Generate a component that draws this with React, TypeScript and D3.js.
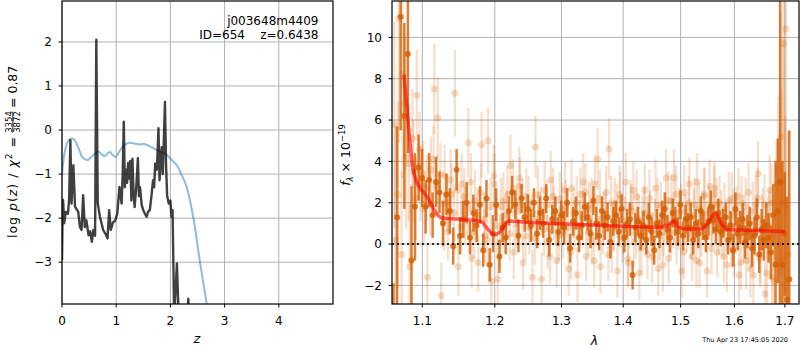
import React from 'react';
import * as d3 from 'd3';

// ---------- Left panel: p(z) ----------
const pzZ = [0.0, 0.01, 0.02, 0.04, 0.07, 0.11, 0.13, 0.155, 0.175, 0.21, 0.24, 0.27, 0.3, 0.33, 0.36, 0.39, 0.42, 0.45, 0.49, 0.52, 0.55, 0.58, 0.61, 0.633, 0.66, 0.7, 0.76, 0.8, 0.84, 0.87, 0.9, 0.94, 0.98, 1.02, 1.06, 1.08, 1.1, 1.12, 1.14, 1.16, 1.18, 1.2, 1.22, 1.24, 1.26, 1.28, 1.3, 1.32, 1.34, 1.37, 1.4, 1.42, 1.44, 1.47, 1.5, 1.53, 1.56, 1.59, 1.62, 1.65, 1.68, 1.7, 1.72, 1.75, 1.78, 1.8, 1.82, 1.84, 1.86, 1.9, 1.92, 1.94, 1.97, 2.0, 2.02, 2.04, 2.07, 2.12, 2.16, 2.3, 2.33, 2.36];
const pzLog = [-2.95, -2.0, -1.59, -2.12, -1.86, -1.9, -1.6, -0.23, -1.67, -0.8, -1.74, -1.8, -1.86, -2.2, -2.27, -1.48, -2.2, -2.05, -2.39, -2.3, -2.54, -2.27, -2.4, 2.05, -1.67, -1.97, -2.27, -2.35, -2.46, -1.82, -2.27, -2.1, -2.06, -1.9, -1.29, -1.5, -1.67, -1.0, 0.19, -1.3, -0.9, -1.2, -0.75, -1.1, -0.7, -1.6, -0.65, -1.4, -1.75, -1.3, -0.64, -1.5, -1.3, -1.7, -1.82, -1.9, -1.97, -1.85, -1.82, -1.5, -1.14, -1.3, -0.76, -0.9, 0.04, -1.14, -0.7, -0.39, -1.0, 0.64, -0.8, -1.5, -1.67, -1.6, -1.97, -1.82, -4.3, -3.03, -4.5, -4.5, -3.83, -4.5];

const chiZ = [0, 0.05, 0.1, 0.15, 0.22, 0.3, 0.38, 0.47, 0.55, 0.67, 0.73, 0.79, 0.85, 0.885, 0.93, 0.99, 1.05, 1.12, 1.18, 1.25, 1.35, 1.45, 1.5, 1.55, 1.62, 1.7, 1.81, 1.93, 2.0, 2.12, 2.2, 2.3, 2.42, 2.55, 2.67, 2.75];
const chiScaled = [-1.0, -0.5, -0.28, -0.2, -0.21, -0.4, -0.62, -0.68, -0.6, -0.49, -0.55, -0.59, -0.52, -0.5, -0.56, -0.61, -0.5, -0.38, -0.32, -0.29, -0.31, -0.33, -0.31, -0.33, -0.37, -0.42, -0.49, -0.56, -0.65, -0.8, -1.0, -1.29, -1.97, -3.03, -3.95, -4.6];

const leftXTicks = [0, 1, 2, 3, 4];
const leftYTicks = [-3, -2, -1, 0, 1, 2];

// ---------- Right panel: spectrum ----------
const darkWave = [1.0625, 1.0672, 1.0718, 1.0765, 1.0811, 1.0858, 1.0904, 1.0951, 1.0997, 1.1044,
  1.1090, 1.1137, 1.1183, 1.1230, 1.1276, 1.1323, 1.1369, 1.1416, 1.1462, 1.1509,
  1.1555, 1.1602, 1.1648, 1.1695, 1.1741, 1.1788, 1.1834, 1.1881, 1.1927, 1.1974,
  1.2020, 1.2067, 1.2113, 1.2160, 1.2206, 1.2253, 1.2299, 1.2346, 1.2392, 1.2439,
  1.2485, 1.2532, 1.2578, 1.2625, 1.2671, 1.2718, 1.2764, 1.2811, 1.2857, 1.2904,
  1.2950, 1.2997, 1.3043, 1.3090, 1.3136, 1.3183, 1.3229, 1.3276, 1.3322, 1.3369,
  1.3415, 1.3462, 1.3508, 1.3555, 1.3601, 1.3648, 1.3694, 1.3741, 1.3787, 1.3834,
  1.3880, 1.3927, 1.3973, 1.4020, 1.4066, 1.4113, 1.4159, 1.4206, 1.4252, 1.4299,
  1.4345, 1.4392, 1.4438, 1.4485, 1.4531, 1.4578, 1.4624, 1.4671, 1.4717, 1.4764,
  1.4810, 1.4857, 1.4903, 1.4950, 1.4996, 1.5043, 1.5089, 1.5136, 1.5182, 1.5229,
  1.5275, 1.5322, 1.5368, 1.5415, 1.5461, 1.5508, 1.5554, 1.5601, 1.5647, 1.5694,
  1.5740, 1.5787, 1.5833, 1.5880, 1.5926, 1.5973, 1.6019, 1.6066, 1.6112, 1.6159,
  1.6205, 1.6252, 1.6298, 1.6345, 1.6391, 1.6438, 1.6484, 1.6531, 1.6577, 1.6624,
  1.6670, 1.6717, 1.6763, 1.6810, 1.6856, 1.6903, 1.6949, 1.6996, 1.7042, 1.7089];
const darkFlux = [-3.4, 1.3, 11.0, 6.2, 9.2, -0.8, 1.8, 3.7, 3.2, 1.8,
  3.1, 1.4, 3.0, 2.5, 1.0, 2.4, 1.6, -0.1, 3.6, 0.4,
  1.2, 2.0, 0.3, 1.5, 0.9, 1.9, -0.3, 2.2, -1.0, 0.5,
  1.9, -0.6, 0.8, 0.3, 1.6, 2.5, 1.9, 0.4, 2.2, 1.3,
  1.7, 0.9, 2.0, 0.5, 1.5, 1.0, 2.2, 0.2, 1.2, 1.6,
  0.6, 1.4, 0.8, 2.0, -0.2, 1.1, 1.5, 0.3, 0.9, 1.8,
  1.3, 0.5, 2.1, 1.0, 0.4, 1.6, 0.9, 1.3, 0.1, 1.1,
  1.4, 0.6, 1.7, 0.3, 1.0, 1.2, -1.5, 0.8, 1.1, 0.4,
  0.9, 0.2, 1.3, 0.6, -0.3, 1.0, 0.5, 1.4, 1.7, 0.7,
  0.3, 1.5, 1.1, 0.6, 1.9, 0.4, 1.2, 0.8, 1.3, 0.2,
  1.0, 0.5, 1.6, 0.9, 0.3, 1.1, 1.8, 1.2, 0.7, 1.5,
  0.6, 1.0, 1.3, 0.2, 0.9, -0.3, 1.7, 0.5, 0.8, 1.2,
  0.1, 0.6, 1.0, -0.2, 0.4, 1.3, -0.5, 0.7, 0.2, 0.9,
  0.3, -0.4, 1.4, -1.0, 1.6, 3.0, -1.0, 0.5, -2.7, -1.7];
const darkErr = [1.5, 4.4, 5.5, 4.5, 4.8, 3.6, 2.6, 1.6, 1.4, 1.3,
  1.3, 1.1, 1.2, 1.0, 1.1, 1.0, 1.1, 0.9, 1.0, 0.9,
  0.9, 1.0, 0.8, 0.9, 0.8, 0.9, 0.8, 0.9, 0.8, 0.9,
  0.8, 0.8, 0.7, 0.8, 0.7, 0.8, 0.7, 0.8, 0.7, 0.7,
  0.7, 0.8, 0.7, 0.7, 0.8, 0.7, 0.7, 0.8, 0.7, 0.7,
  0.7, 0.7, 0.8, 0.7, 0.7, 0.7, 0.8, 0.7, 0.7, 0.7,
  0.7, 0.7, 0.7, 0.8, 0.7, 0.7, 0.7, 0.7, 0.8, 0.7,
  0.7, 0.7, 0.7, 0.7, 0.7, 0.8, 0.7, 0.7, 0.7, 0.7,
  0.7, 0.7, 0.7, 0.7, 0.7, 0.7, 0.7, 0.7, 0.8, 0.7,
  0.7, 0.7, 0.7, 0.7, 0.7, 0.7, 0.7, 0.7, 0.7, 0.7,
  0.7, 0.7, 0.7, 0.7, 0.7, 0.7, 0.8, 0.7, 0.7, 0.7,
  0.7, 0.7, 0.7, 0.7, 0.7, 0.8, 0.8, 0.8, 0.8, 0.8,
  0.8, 0.8, 0.8, 0.9, 0.9, 0.9, 0.9, 1.0, 1.0, 1.1,
  1.2, 1.3, 1.5, 5.0, 3.5, 9.0, 5.0, 3.0, 5.0, 7.2];

const lightWave = [1.0648, 1.0695, 1.0741, 1.0788, 1.0834, 1.0881, 1.0927, 1.0974, 1.1020, 1.1067,
  1.1113, 1.1160, 1.1206, 1.1253, 1.1299, 1.1346, 1.1392, 1.1439, 1.1485, 1.1532,
  1.1578, 1.1625, 1.1671, 1.1718, 1.1764, 1.1811, 1.1857, 1.1904, 1.1950, 1.1997,
  1.2043, 1.2090, 1.2136, 1.2183, 1.2229, 1.2276, 1.2322, 1.2369, 1.2415, 1.2462,
  1.2508, 1.2555, 1.2601, 1.2648, 1.2694, 1.2741, 1.2787, 1.2834, 1.2880, 1.2927,
  1.2973, 1.3020, 1.3066, 1.3113, 1.3159, 1.3206, 1.3252, 1.3299, 1.3345, 1.3392,
  1.3438, 1.3485, 1.3531, 1.3578, 1.3624, 1.3671, 1.3717, 1.3764, 1.3810, 1.3857,
  1.3903, 1.3950, 1.3996, 1.4043, 1.4089, 1.4136, 1.4182, 1.4229, 1.4275, 1.4322,
  1.4368, 1.4415, 1.4461, 1.4508, 1.4554, 1.4601, 1.4647, 1.4694, 1.4740, 1.4787,
  1.4833, 1.4880, 1.4926, 1.4973, 1.5019, 1.5066, 1.5112, 1.5159, 1.5205, 1.5252,
  1.5298, 1.5345, 1.5391, 1.5438, 1.5484, 1.5531, 1.5577, 1.5624, 1.5670, 1.5717,
  1.5763, 1.5810, 1.5856, 1.5903, 1.5949, 1.5996, 1.6042, 1.6089, 1.6135, 1.6182,
  1.6228, 1.6275, 1.6321, 1.6368, 1.6414, 1.6461, 1.6507, 1.6554, 1.6600, 1.6647,
  1.6693, 1.6740, 1.6786, 1.6833, 1.6879, 1.6926, 1.6972, 1.7019, 1.7065];
const lightFlux = [0.2, 10.9, 8.2, 4.2, -1.1, 3.5, 7.2, 2.9, 1.7, -1.6,
  3.6, 7.5, 6.1, -2.5, 3.3, 0.6, 2.4, 7.3, -1.1, 2.9,
  1.4, 4.9, -0.7, 2.1, -0.9, 4.8, 0.4, 5.0, -1.8, 2.9,
  -1.7, 1.8, 0.9, 2.4, 3.8, -0.4, 1.6, 2.8, -0.9, 2.3,
  0.8, -1.6, 4.7, 1.2, -1.7, 2.6, 0.1, 3.1, 1.5, -0.8,
  2.2, 0.5, 1.8, -1.2, 2.7, 0.9, -1.5, 2.4, 3.0, -0.6,
  1.7, 0.2, 2.9, 4.1, -1.1, 1.3, 2.5, 4.6, -0.2, 1.9,
  -1.3, 2.2, 0.7, 3.0, -0.9, 1.6, 0.1, 2.3, -1.4, 1.1,
  2.6, -0.5, 1.4, 0.3, 2.7, -1.2, 1.8, 0.6, 3.2, -0.7,
  2.1, 3.2, 0.2, 1.5, -1.3, 2.5, 0.8, 2.9, -0.6, 1.9,
  3.0, -0.9, 1.4, 2.4, -1.3, 2.8, 1.1, 2.7, -0.4, 2.0,
  0.5, 1.7, -1.0, 0.9, 2.2, -0.3, 1.5, -1.5, 2.0, 0.4,
  -0.8, 2.5, 0.1, -1.5, 1.9, 3.4, -0.5, 1.2, -2.4, 0.8,
  2.6, -1.6, 0.5, 2.9, -0.9, 3.0, 9.7, 10.4, -0.5];
const lightErr = [5.5, 6.0, 5.0, 3.5, 3.0, 2.5, 2.2, 1.8, 1.7, 1.6,
  1.6, 2.2, 2.0, 1.6, 1.5, 1.4, 1.5, 2.1, 1.4, 1.5,
  1.4, 1.7, 1.4, 1.5, 1.4, 1.6, 1.3, 1.6, 1.4, 1.5,
  1.3, 1.4, 1.3, 1.4, 1.5, 1.3, 1.4, 1.4, 1.3, 1.4,
  1.3, 1.3, 1.5, 1.3, 1.3, 1.4, 1.3, 1.4, 1.3, 1.3,
  1.3, 1.2, 1.3, 1.3, 1.4, 1.2, 1.3, 1.3, 1.4, 1.2,
  1.3, 1.2, 1.4, 1.5, 1.3, 1.2, 1.3, 1.5, 1.2, 1.3,
  1.3, 1.3, 1.2, 1.4, 1.2, 1.3, 1.2, 1.3, 1.3, 1.2,
  1.3, 1.2, 1.2, 1.2, 1.4, 1.3, 1.2, 1.2, 1.4, 1.2,
  1.3, 1.4, 1.2, 1.2, 1.3, 1.3, 1.2, 1.3, 1.2, 1.3,
  1.4, 1.2, 1.2, 1.3, 1.3, 1.3, 1.2, 1.3, 1.2, 1.3,
  1.2, 1.3, 1.3, 1.2, 1.3, 1.3, 1.3, 1.4, 1.3, 1.3,
  1.4, 1.4, 1.3, 1.5, 1.4, 1.6, 1.4, 1.5, 1.6, 1.5,
  1.7, 1.8, 1.9, 2.2, 2.5, 4.5, 8.0, 9.0, 6.0];

const lightWave2 = [1.0637, 1.0684, 1.0730, 1.0777, 1.0823, 1.0870, 1.0916, 1.0963, 1.1009, 1.1056,
  1.1102, 1.1149, 1.1195, 1.1242, 1.1288, 1.1335, 1.1381, 1.1428, 1.1474, 1.1521,
  1.1567, 1.1614, 1.1660, 1.1707, 1.1753, 1.1800, 1.1846, 1.1893, 1.1939, 1.1986,
  1.2032, 1.2079, 1.2125, 1.2172, 1.2218, 1.2265, 1.2311, 1.2358, 1.2404, 1.2451,
  1.2497, 1.2544, 1.2590, 1.2637, 1.2683, 1.2730, 1.2776, 1.2823, 1.2869, 1.2916,
  1.2962, 1.3009, 1.3055, 1.3102, 1.3148, 1.3195, 1.3241, 1.3288, 1.3334, 1.3381,
  1.3427, 1.3474, 1.3520, 1.3567, 1.3613, 1.3660, 1.3706, 1.3753, 1.3799, 1.3846,
  1.3892, 1.3939, 1.3985, 1.4032, 1.4078, 1.4125, 1.4171, 1.4218, 1.4264, 1.4311,
  1.4357, 1.4404, 1.4450, 1.4497, 1.4543, 1.4590, 1.4636, 1.4683, 1.4729, 1.4776,
  1.4822, 1.4869, 1.4915, 1.4962, 1.5008, 1.5055, 1.5101, 1.5148, 1.5194, 1.5241,
  1.5287, 1.5334, 1.5380, 1.5427, 1.5473, 1.5520, 1.5566, 1.5613, 1.5659, 1.5706,
  1.5752, 1.5799, 1.5845, 1.5892, 1.5938, 1.5985, 1.6031, 1.6078, 1.6124, 1.6171,
  1.6217, 1.6264, 1.6310, 1.6357, 1.6403, 1.6450, 1.6496, 1.6543, 1.6589, 1.6636,
  1.6682, 1.6729, 1.6775, 1.6822, 1.6868, 1.6915, 1.6961, 1.7008];
const lightFlux2 = [5.8, 2.4, -0.5, 6.8, 3.9, 5.1, 2.2, 4.6, 3.4, 2.7,
  1.9, 4.1, 2.8, 3.4, 1.1, 2.0, 3.1, 1.5, 2.6, 0.8,
  2.3, 1.7, 3.0, 0.6, 1.4, 2.5, 1.2, 0.2, 1.8, 3.3,
  0.9, 0.1, 2.1, 1.4, 0.5, 2.7, 1.0, 3.2, 1.9, 0.4,
  2.0, 1.3, 0.3, 2.4, 1.6, 0.7, 1.9, -0.6, 2.3, 1.1,
  0.4, 1.7, 2.6, 0.8, -0.4, 1.5, 2.0, 0.9, 1.3, 2.5,
  0.6, 1.9, -0.8, 1.2, 2.2, 0.7, 1.4, -0.5, 2.0, 0.9,
  1.6, 2.4, 0.3, 1.1, -0.7, 1.8, 2.6, 0.5, 1.2, -0.2,
  1.5, 0.8, 2.2, -0.6, 1.0, 1.9, 0.4, -1.0, 1.3, 2.1,
  0.6, 1.0, 2.4, 0.9, 1.6, -0.4, 1.2, 2.0, 0.5, 1.4,
  -0.8, 1.7, 0.6, 2.3, 0.9, 1.5, -0.2, 2.4, 1.9, 0.7,
  1.3, -0.6, 0.8, 2.1, 0.2, 1.4, 0.9, 2.3, -0.9, 1.1,
  1.8, 0.3, -1.2, 1.6, 0.7, 2.2, -0.7, 1.0, 1.9, -1.4,
  0.9, 2.0, -1.8, 1.5, 3.6, 5.2, 2.0, -0.8];
const lightErr2 = [5.0, 4.5, 4.0, 3.2, 2.8, 2.4, 2.0, 1.8, 1.6, 1.6,
  1.5, 1.6, 1.5, 1.5, 1.4, 1.4, 1.5, 1.4, 1.4, 1.3,
  1.4, 1.3, 1.4, 1.3, 1.3, 1.4, 1.3, 1.3, 1.4, 1.5,
  1.3, 1.3, 1.4, 1.2, 1.3, 1.4, 1.2, 1.5, 1.3, 1.2,
  1.3, 1.2, 1.3, 1.4, 1.2, 1.3, 1.2, 1.3, 1.4, 1.2,
  1.2, 1.3, 1.4, 1.2, 1.3, 1.2, 1.3, 1.2, 1.3, 1.4,
  1.2, 1.3, 1.3, 1.2, 1.4, 1.2, 1.2, 1.3, 1.3, 1.2,
  1.3, 1.4, 1.2, 1.2, 1.3, 1.3, 1.4, 1.2, 1.2, 1.3,
  1.3, 1.2, 1.4, 1.3, 1.2, 1.3, 1.2, 1.3, 1.2, 1.4,
  1.2, 1.2, 1.4, 1.2, 1.3, 1.3, 1.2, 1.3, 1.2, 1.3,
  1.3, 1.3, 1.2, 1.4, 1.2, 1.3, 1.3, 1.4, 1.3, 1.2,
  1.3, 1.3, 1.2, 1.4, 1.3, 1.3, 1.2, 1.4, 1.3, 1.3,
  1.4, 1.3, 1.4, 1.4, 1.3, 1.5, 1.4, 1.4, 1.5, 1.6,
  1.7, 1.9, 2.2, 2.6, 3.5, 6.0, 8.0, 7.0];

const modelWave = [1.076, 1.082, 1.0865, 1.093, 1.1, 1.104, 1.111, 1.117, 1.126, 1.14, 1.172, 1.182, 1.19, 1.2, 1.206, 1.22, 1.25, 1.3, 1.35, 1.4, 1.459, 1.476, 1.488, 1.494, 1.51, 1.537, 1.548, 1.564, 1.574, 1.587, 1.65, 1.70];
const modelFlux = [8.2, 5.7, 3.95, 2.97, 2.57, 2.4, 2.0, 1.59, 1.27, 1.22, 1.15, 1.05, 0.72, 0.45, 0.55, 1.12, 1.05, 0.98, 0.92, 0.86, 0.81, 0.9, 1.12, 0.85, 0.73, 0.73, 0.94, 1.5, 1.02, 0.7, 0.65, 0.6];

const rightXTicks = [1.1, 1.2, 1.3, 1.4, 1.5, 1.6, 1.7];
const rightYTicks = [-2, 0, 2, 4, 6, 8, 10];

const FONT = 'DejaVu Sans';
const ORANGE = '#d55e00';
const GRID = '#b0b0b0';
const fmt = (v: number) => (v < 0 ? '\u2212' + Math.abs(v) : String(v));

export default function App() {
  const L = { x0: 62, x1: 333, y0: 1, y1: 304 };
  const R = { x0: 392, x1: 799, y0: 1, y1: 304 };
  const xz = d3.scaleLinear().domain([0, 5]).range([L.x0, L.x1]);
  const yz = d3.scaleLinear().domain([-3.95, 2.93]).range([L.y1, L.y0]);
  const xl = d3.scaleLog().domain([1.0607, 1.729]).range([R.x0, R.x1]);
  const yf = d3.scaleLinear().domain([-2.9, 11.76]).range([R.y1, R.y0]);

  const pzLine = d3.line<number>().x((_, i) => xz(pzZ[i])).y((d) => yz(d));
  const chiLine = d3.line<number>().x((_, i) => xz(chiZ[i])).y((d) => yz(d)).curve(d3.curveCatmullRom);
  const modelLine = d3.line<number>().x((_, i) => xl(modelWave[i])).y((d) => yf(d)).curve(d3.curveMonotoneX);

  const lightSets = [
    { w: lightWave2, f: lightFlux2, e: lightErr2 },
    { w: lightWave, f: lightFlux, e: lightErr },
  ];

  return (
    <svg width={800} height={350} style={{ position: 'absolute', left: 0, top: 0, background: '#fff' }} fontFamily={FONT}>
      <defs>
        <clipPath id="clipL"><rect x={L.x0} y={L.y0} width={L.x1 - L.x0} height={L.y1 - L.y0} /></clipPath>
        <clipPath id="clipR"><rect x={R.x0} y={R.y0} width={R.x1 - R.x0} height={R.y1 - R.y0} /></clipPath>
      </defs>
      <rect x={0} y={0} width={800} height={350} fill="#fff" />

      {/* ----- Left panel ----- */}
      <g>
        {leftXTicks.map((t) => (
          <line key={'lgx' + t} x1={xz(t)} x2={xz(t)} y1={L.y0} y2={L.y1} stroke={GRID} strokeWidth={1} />
        ))}
        {leftYTicks.map((t) => (
          <line key={'lgy' + t} x1={L.x0} x2={L.x1} y1={yz(t)} y2={yz(t)} stroke={GRID} strokeWidth={1} />
        ))}
        <g clipPath="url(#clipL)">
          <path d={chiLine(chiScaled) || ''} fill="none" stroke="#1f77b4" strokeOpacity={0.5} strokeWidth={2} />
          <path d={pzLine(pzLog) || ''} fill="none" stroke="#000" strokeOpacity={0.75} strokeWidth={2.4} strokeLinejoin="round" />
        </g>
        <rect x={L.x0} y={L.y0} width={L.x1 - L.x0} height={L.y1 - L.y0} fill="none" stroke="#000" strokeWidth={1.2} />
        {leftXTicks.map((t) => (
          <g key={'ltx' + t}>
            <line x1={xz(t)} x2={xz(t)} y1={L.y1} y2={L.y1 + 3.5} stroke="#000" />
            <text x={xz(t)} y={325} fontSize={12} textAnchor="middle">{fmt(t)}</text>
          </g>
        ))}
        {leftYTicks.map((t) => (
          <g key={'lty' + t}>
            <line x1={L.x0 - 3.5} x2={L.x0} y1={yz(t)} y2={yz(t)} stroke="#000" />
            <text x={52} y={yz(t) + 4.3} fontSize={12} textAnchor="end">{fmt(t)}</text>
          </g>
        ))}
        <text x={197} y={343} fontSize={12.5} fontStyle="italic" textAnchor="middle">z</text>
        <text x={318.5} y={24.5} fontSize={12} textAnchor="end">j003648m4409</text>
        <text x={318.5} y={39.3} fontSize={12} textAnchor="end" style={{ whiteSpace: 'pre' }}>{'ID=654    z=0.6438'}</text>
        <g transform="translate(17,238) rotate(-90)">
          <text x={0} y={0} fontSize={12.5} textLength={101} lengthAdjust="spacing">
            <tspan>log </tspan>
            <tspan fontStyle="italic">p</tspan>
            <tspan>(</tspan>
            <tspan fontStyle="italic">z</tspan>
            <tspan>) / </tspan>
            <tspan fontStyle="italic">χ</tspan>
            <tspan fontSize={9} dy={-5}>2</tspan>
            <tspan dy={5}> =</tspan>
          </text>
          <text x={116} y={-5.2} fontSize={8.5} textAnchor="middle">3354</text>
          <line x1={105.5} x2={126.5} y1={-4.2} y2={-4.2} stroke="#000" strokeWidth={0.8} />
          <text x={116} y={3.3} fontSize={8.5} textAnchor="middle">3872</text>
          <text x={130} y={0} fontSize={12.5}>= 0.87</text>
        </g>
      </g>

      {/* ----- Right panel ----- */}
      <g>
        {rightXTicks.map((t) => (
          <line key={'rgx' + t} x1={xl(t)} x2={xl(t)} y1={R.y0} y2={R.y1} stroke={GRID} strokeWidth={1} />
        ))}
        {rightYTicks.map((t) => (
          <line key={'rgy' + t} x1={R.x0} x2={R.x1} y1={yf(t)} y2={yf(t)} stroke={GRID} strokeWidth={1} />
        ))}
        <g clipPath="url(#clipR)">
          {lightSets.map((s, si) =>
            s.f.map((f, i) => (
              <g key={'lp' + si + '_' + i}>
                <line x1={xl(s.w[i])} x2={xl(s.w[i])} y1={yf(f - s.e[i])} y2={yf(f + s.e[i])}
                  stroke={ORANGE} strokeOpacity={0.2} strokeWidth={2.3} />
                <circle cx={xl(s.w[i])} cy={yf(f)} r={3.5} fill={ORANGE} fillOpacity={0.22} />
              </g>
            ))
          )}
          {darkFlux.map((f, i) => (
            <g key={'dp' + i}>
              <line x1={xl(darkWave[i])} x2={xl(darkWave[i])} y1={yf(f - darkErr[i])} y2={yf(f + darkErr[i])}
                stroke={ORANGE} strokeOpacity={0.8} strokeWidth={2.5} />
              <circle cx={xl(darkWave[i])} cy={yf(f)} r={3} fill={ORANGE} fillOpacity={0.8} />
            </g>
          ))}
          <path d={modelLine(modelFlux) || ''} fill="none" stroke="#ff0000" strokeOpacity={0.6} strokeWidth={3.5} strokeLinejoin="round" />
          <line x1={R.x0} x2={R.x1} y1={yf(0)} y2={yf(0)} stroke="#000" strokeWidth={2} strokeDasharray="2,3" strokeOpacity={0.8} />
        </g>
        <rect x={R.x0} y={R.y0} width={R.x1 - R.x0} height={R.y1 - R.y0} fill="none" stroke="#000" strokeWidth={1.2} />
        {rightXTicks.map((t) => (
          <g key={'rtx' + t}>
            <line x1={xl(t)} x2={xl(t)} y1={R.y1} y2={R.y1 + 3.5} stroke="#000" />
            <text x={xl(t)} y={325} fontSize={12} textAnchor="middle">{t.toFixed(1)}</text>
          </g>
        ))}
        {rightYTicks.map((t) => (
          <g key={'rty' + t}>
            <line x1={R.x0 - 3.5} x2={R.x0} y1={yf(t)} y2={yf(t)} stroke="#000" />
            <text x={382} y={yf(t) + 4.3} fontSize={12} textAnchor="end">{fmt(t)}</text>
          </g>
        ))}
        <text x={594.5} y={345} fontSize={12.5} fontStyle="italic" textAnchor="middle">λ</text>
        <g transform="translate(350,155) rotate(-90)">
          <text x={0} y={0} fontSize={12.5} textAnchor="middle">
            <tspan fontStyle="italic">f</tspan>
            <tspan fontSize={8.5} dy={3} fontStyle="italic">λ</tspan>
            <tspan dy={-3}> × 10</tspan>
            <tspan fontSize={8.5} dy={-5.5}>−19</tspan>
          </text>
        </g>
        <text x={788} y={342} fontSize={6.5} textAnchor="end">Thu Apr 23 17:45:05 2020</text>
      </g>
    </svg>
  );
}
